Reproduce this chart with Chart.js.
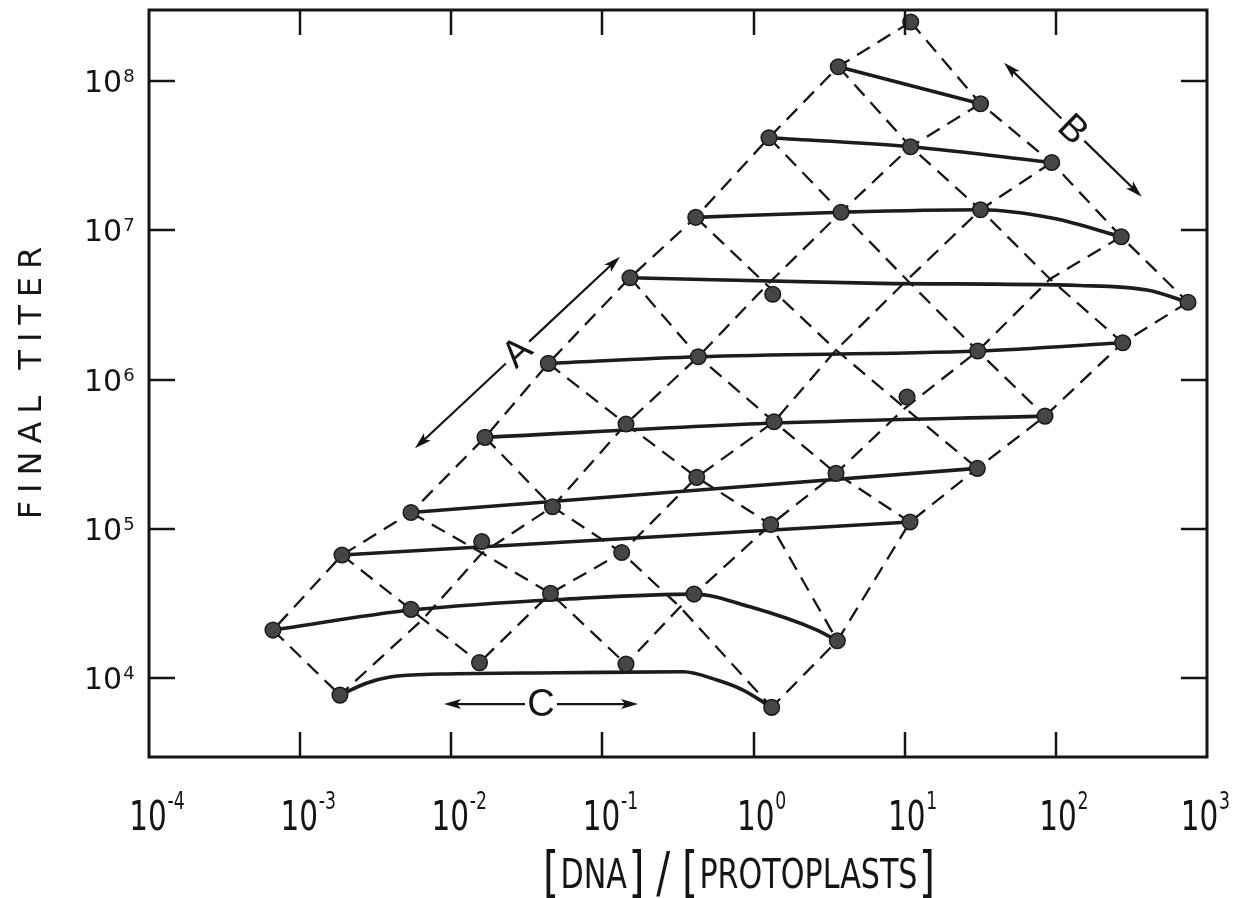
<!DOCTYPE html>
<html>
<head>
<meta charset="utf-8">
<title>Final titer vs DNA / protoplasts</title>
<script src="https://cdn.jsdelivr.net/npm/chart.js@4.4.1/dist/chart.umd.min.js"></script>
<style>
  html, body { margin: 0; padding: 0; background: #fff; }
  #wrap { width: 1233px; height: 898px; }
</style>
</head>
<body>
<div id="wrap"><canvas id="titerChart" width="1233" height="898"></canvas></div>
<script>
// decades on both axes
const dnaTicks = [1e-4, 1e-3, 1e-2, 1e-1, 1e0, 1e1, 1e2, 1e3];
const dnaTickExp = ['-4', '-3', '-2', '-1', '0', '1', '2', '3'];
const titerTicks = [1e4, 1e5, 1e6, 1e7, 1e8];
const titerTickExp = ['4', '5', '6', '7', '8'];
const dnaRange = [1e-4, 1e3];
const titerRange = [2960, 2.99e8];

// measured points, indexed [i][j]: i = rising dashed line, j = falling dashed line
const pointDna = [
  [10.96, 3.637, 1.265, 0.4143, 0.1522, 0.04384, 0.01671, 0.005413, 0.001892, 0.000661],
  [31.74, 10.93, 3.789, 1.339, 0.4310, 0.1432, 0.04673, 0.01590, 0.005413, 0.001835],
  [93.9, 31.74, null, null, 1.366, 0.4206, 0.1341, 0.04533, 0.01537, null],
  [270.7, null, 30.41, 10.36, 3.512, 1.299, 0.4036, 0.1432, null, null],
  [748.7, 276.9, 84.8, 30.23, 10.84, 3.582, 1.318, null, null, null]
];
const pointTiter = [
  [2.485e8, 1.247e8, 4.171e7, 1.221e7, 4.810e6, 1.284e6, 4.099e5, 1.285e5, 6.671e4, 2.097e4],
  [7.045e7, 3.629e7, 1.321e7, 3.723e6, 1.422e6, 5.033e5, 1.405e5, 8.214e4, 2.886e4, 7.69e3],
  [2.844e7, 1.373e7, null, null, 5.216e5, 2.212e5, 6.934e4, 3.694e4, 1.270e4, null],
  [9.054e6, null, 1.552e6, 7.63e5, 2.352e5, 1.068e5, 3.654e4, 1.241e4, null, null],
  [3.296e6, 1.764e6, 5.69e5, 2.541e5, 1.110e5, 1.777e4, 6.363e3, null, null, null]
];

// nodes of the dashed grid, same indexing
const gridDna = [
  [10.96, 3.637, 1.265, 0.4143, 0.1522, 0.04384, 0.01671, 0.005413, 0.001892, 0.000661],
  [31.74, 10.93, 3.789, 1.227, 0.4310, 0.1432, 0.04673, 0.01597, 0.006499, 0.001835],
  [93.9, 31.74, 10.36, 3.512, 1.366, 0.4206, 0.1341, 0.04533, 0.01537, null],
  [270.7, 91.5, 30.41, 10.05, 3.512, 1.299, 0.3262, 0.1432, null, null],
  [748.7, 276.9, 84.8, 30.23, 10.84, 3.582, 1.318, null, null, null]
];
const gridTiter = [
  [2.485e8, 1.247e8, 4.171e7, 1.221e7, 4.810e6, 1.284e6, 4.099e5, 1.285e5, 6.671e4, 2.097e4],
  [7.045e7, 3.629e7, 1.321e7, 4.298e6, 1.422e6, 5.033e5, 1.405e5, 6.88e4, 2.485e4, 7.69e3],
  [2.844e7, 1.373e7, 4.642e6, 1.577e6, 5.216e5, 2.212e5, 6.934e4, 3.694e4, 1.270e4, null],
  [9.054e6, 4.714e6, 1.552e6, 6.442e5, 2.352e5, 1.068e5, 2.990e4, 1.241e4, null, null],
  [3.296e6, 1.764e6, 5.69e5, 2.541e5, 1.110e5, 1.777e4, 6.363e3, null, null, null]
];

// smooth trend curves, one per row of points (top to bottom)
const trendDna = [
  [3.637, 31.74],
  [1.265, 10.93, 93.9],
  [0.4143, 3.789, 31.74, 95.8, 270.7],
  [0.1522, 6.866, 144.5, 401.1, 748.7],
  [0.04384, 0.4310, 30.41, 276.9],
  [0.01671, 1.387, 84.8],
  [0.005413, 30.23],
  [0.001892, 10.84],
  [0.000661, 0.005413, 0.07106, 0.4036, 0.9473, 2.630, 3.582],
  [0.001835, 0.002770, 0.003932, 0.008421, 0.05239, 0.3415, 0.5729, 0.8514, 1.318]
];
const trendTiter = [
  [1.247e8, 7.045e7],
  [4.171e7, 3.629e7, 2.844e7],
  [1.221e7, 1.321e7, 1.373e7, 1.203e7, 9.054e6],
  [4.810e6, 4.411e6, 4.264e6, 3.978e6, 3.296e6],
  [1.284e6, 1.422e6, 1.552e6, 1.764e6],
  [4.099e5, 5.111e5, 5.69e5],
  [1.285e5, 2.541e5],
  [6.671e4, 1.110e5],
  [2.097e4, 2.855e4, 3.420e4, 3.654e4, 3.004e4, 2.097e4, 1.777e4],
  [7.69e3, 9.26e3, 1.016e4, 1.064e4, 1.085e4, 1.102e4, 9.70e3, 8.31e3, 6.363e3]
];

// double-headed arrows with their letters
const arrowLabels = ['A', 'B', 'C'];
const arrowFromDna = [0.005754, 45.4, 0.008948];
const arrowFromTiter = [3.459e5, 1.327e8, 6.696e3];
const arrowToDna = [0.1307, 369.9, 0.1719];
const arrowToTiter = [6.65e6, 1.678e7, 6.696e3];

const INK = '#151515';
const FONT = '"DejaVu Sans", sans-serif';

function pts(xs, ys) {
  const out = [];
  xs.forEach((v, k) => { if (v != null && ys[k] != null) out.push({ x: v, y: ys[k] }); });
  return out;
}

const datasets = [];

// measured points on top
const allPoints = [];
pointDna.forEach((row, i) => allPoints.push(...pts(row, pointTiter[i])));
datasets.push({
  data: allPoints,
  showLine: false,
  pointRadius: 7.8,
  pointBackgroundColor: '#464646',
  pointBorderColor: '#1a1a1a',
  pointBorderWidth: 1.5,
  order: 0,
  clip: false
});

// solid trend curves
trendDna.forEach((row, k) => {
  datasets.push({
    data: pts(row, trendTiter[k]),
    showLine: true,
    borderColor: '#1c1c1c',
    borderWidth: 3.6,
    pointRadius: 0,
    cubicInterpolationMode: 'monotone',
    order: 1,
    clip: false
  });
});

// dashed grid: rising lines then falling lines
function dashed(data) {
  return {
    data,
    showLine: true,
    borderColor: INK,
    borderWidth: 2.3,
    borderDash: [15, 9],
    pointRadius: 0,
    tension: 0,
    order: 2,
    clip: false
  };
}
gridDna.forEach((row, i) => datasets.push(dashed(pts(row, gridTiter[i]))));
for (let j = 0; j < gridDna[0].length; j++) {
  const col = pts(gridDna.map(r => r[j]), gridTiter.map(r => r[j]));
  if (col.length > 1) datasets.push(dashed(col));
}

// "10" with a raised exponent, squeezed horizontally by sx; returns drawn width
function powerWidth(ctx, exp, bigFont, smallFont, sx) {
  ctx.font = bigFont;
  const w = ctx.measureText('10').width;
  ctx.font = smallFont;
  return (w + 1 + ctx.measureText(exp).width) * sx;
}
function drawPower(ctx, exp, left, base, bigFont, smallFont, rise, sx) {
  ctx.save();
  ctx.translate(left, base);
  ctx.scale(sx, 1);
  ctx.font = bigFont;
  ctx.fillText('10', 0, 0);
  const w = ctx.measureText('10').width;
  ctx.font = smallFont;
  ctx.fillText(exp, w + 1, -rise);
  ctx.restore();
}

const paperPlugin = {
  id: 'paper',
  beforeDraw(chart) {
    const ctx = chart.ctx;
    ctx.save();
    ctx.fillStyle = '#fff';
    ctx.fillRect(0, 0, chart.width, chart.height);
    ctx.restore();
  },
  afterDraw(chart) {
    const { ctx, chartArea: a } = chart;
    const xs = chart.scales.x, ys = chart.scales.y;
    ctx.save();
    ctx.strokeStyle = INK;
    ctx.fillStyle = INK;

    // frame with inward ticks on all sides
    ctx.lineWidth = 3;
    ctx.strokeRect(a.left, a.top, a.right - a.left, a.bottom - a.top);
    ctx.lineWidth = 2.5;
    ctx.beginPath();
    dnaTicks.slice(1, -1).forEach(v => {
      const px = Math.round(xs.getPixelForValue(v));
      ctx.moveTo(px, a.top); ctx.lineTo(px, a.top + 25);
      ctx.moveTo(px, a.bottom); ctx.lineTo(px, a.bottom - 25);
    });
    titerTicks.forEach(v => {
      const py = Math.round(ys.getPixelForValue(v));
      ctx.moveTo(a.left, py); ctx.lineTo(a.left + 26, py);
      ctx.moveTo(a.right, py); ctx.lineTo(a.right - 26, py);
    });
    ctx.stroke();

    // tick labels
    ctx.textAlign = 'left';
    ctx.textBaseline = 'alphabetic';
    titerTicks.forEach((v, k) => {
      const py = ys.getPixelForValue(v);
      drawPower(ctx, titerTickExp[k], 84, py + 11, '30px ' + FONT, '18px ' + FONT, 10, 1);
    });
    const big = '41px ' + FONT, small = '24px ' + FONT;
    dnaTicks.forEach((v, k) => {
      const px = xs.getPixelForValue(v);
      const w = powerWidth(ctx, dnaTickExp[k], big, small, 0.72);
      const left = Math.min(px + 8 - w / 2, chart.width - 3 - w);
      drawPower(ctx, dnaTickExp[k], left, 830, big, small, 21, 0.72);
    });

    // y title
    ctx.save();
    ctx.translate(33, 383);
    ctx.rotate(-Math.PI / 2);
    ctx.font = '32px ' + FONT;
    ctx.letterSpacing = '8px';
    ctx.textAlign = 'center';
    ctx.textBaseline = 'middle';
    ctx.fillText('FINAL TITER', 4, 0);
    ctx.restore();

    // x title: [DNA] / [PROTOPLASTS], condensed to its printed width
    const parts = [['[', 56, 891], ['DNA', 41, 888], [']', 56, 891], ['/', 56, 891],
                   ['[', 56, 891], ['PROTOPLASTS', 41, 888], [']', 56, 891]];
    const pad = [2, 2, 16, 16, 2, 2, 0];
    let natural = 0;
    parts.forEach((p, k) => { ctx.font = p[1] + 'px ' + FONT; natural += ctx.measureText(p[0]).width + pad[k]; });
    const sx = 392 / natural;
    ctx.save();
    ctx.translate(739 - 196, 0);
    ctx.scale(sx, 1);
    let cx = 0;
    parts.forEach((p, k) => {
      ctx.font = p[1] + 'px ' + FONT;
      ctx.fillText(p[0], cx, p[2]);
      cx += ctx.measureText(p[0]).width + pad[k];
    });
    ctx.restore();

    // arrows A, B, C
    arrowLabels.forEach((label, k) => {
      const x1 = xs.getPixelForValue(arrowFromDna[k]), y1 = ys.getPixelForValue(arrowFromTiter[k]);
      const x2 = xs.getPixelForValue(arrowToDna[k]), y2 = ys.getPixelForValue(arrowToTiter[k]);
      const h = Math.hypot(x2 - x1, y2 - y1) / 2, gap = 16;
      ctx.save();
      ctx.translate((x1 + x2) / 2, (y1 + y2) / 2);
      ctx.rotate(Math.atan2(y2 - y1, x2 - x1));
      ctx.lineWidth = 2.2;
      ctx.beginPath();
      ctx.moveTo(-h + 6, 0); ctx.lineTo(-gap, 0);
      ctx.moveTo(gap, 0); ctx.lineTo(h - 6, 0);
      ctx.stroke();
      [[-h, -1], [h, 1]].forEach(([tip, dir]) => {
        ctx.beginPath();
        ctx.moveTo(tip, 0);
        ctx.lineTo(tip - dir * 17, -5);
        ctx.lineTo(tip - dir * 13, 0);
        ctx.lineTo(tip - dir * 17, 5);
        ctx.closePath();
        ctx.fill();
      });
      ctx.font = '38px "Liberation Sans", sans-serif';
      ctx.textAlign = 'center';
      ctx.textBaseline = 'middle';
      ctx.fillText(label, 0, 1);
      ctx.restore();
    });
    ctx.restore();
  }
};

new Chart(document.getElementById('titerChart'), {
  type: 'scatter',
  data: { datasets },
  options: {
    responsive: false,
    animation: false,
    devicePixelRatio: 1,
    layout: { padding: { left: 149, right: 26, top: 10, bottom: 141 } },
    scales: {
      x: { type: 'logarithmic', min: dnaRange[0], max: dnaRange[1], display: false },
      y: { type: 'logarithmic', min: titerRange[0], max: titerRange[1], display: false }
    },
    plugins: { legend: { display: false }, tooltip: { enabled: false } }
  },
  plugins: [paperPlugin]
});
</script>
</body>
</html>
